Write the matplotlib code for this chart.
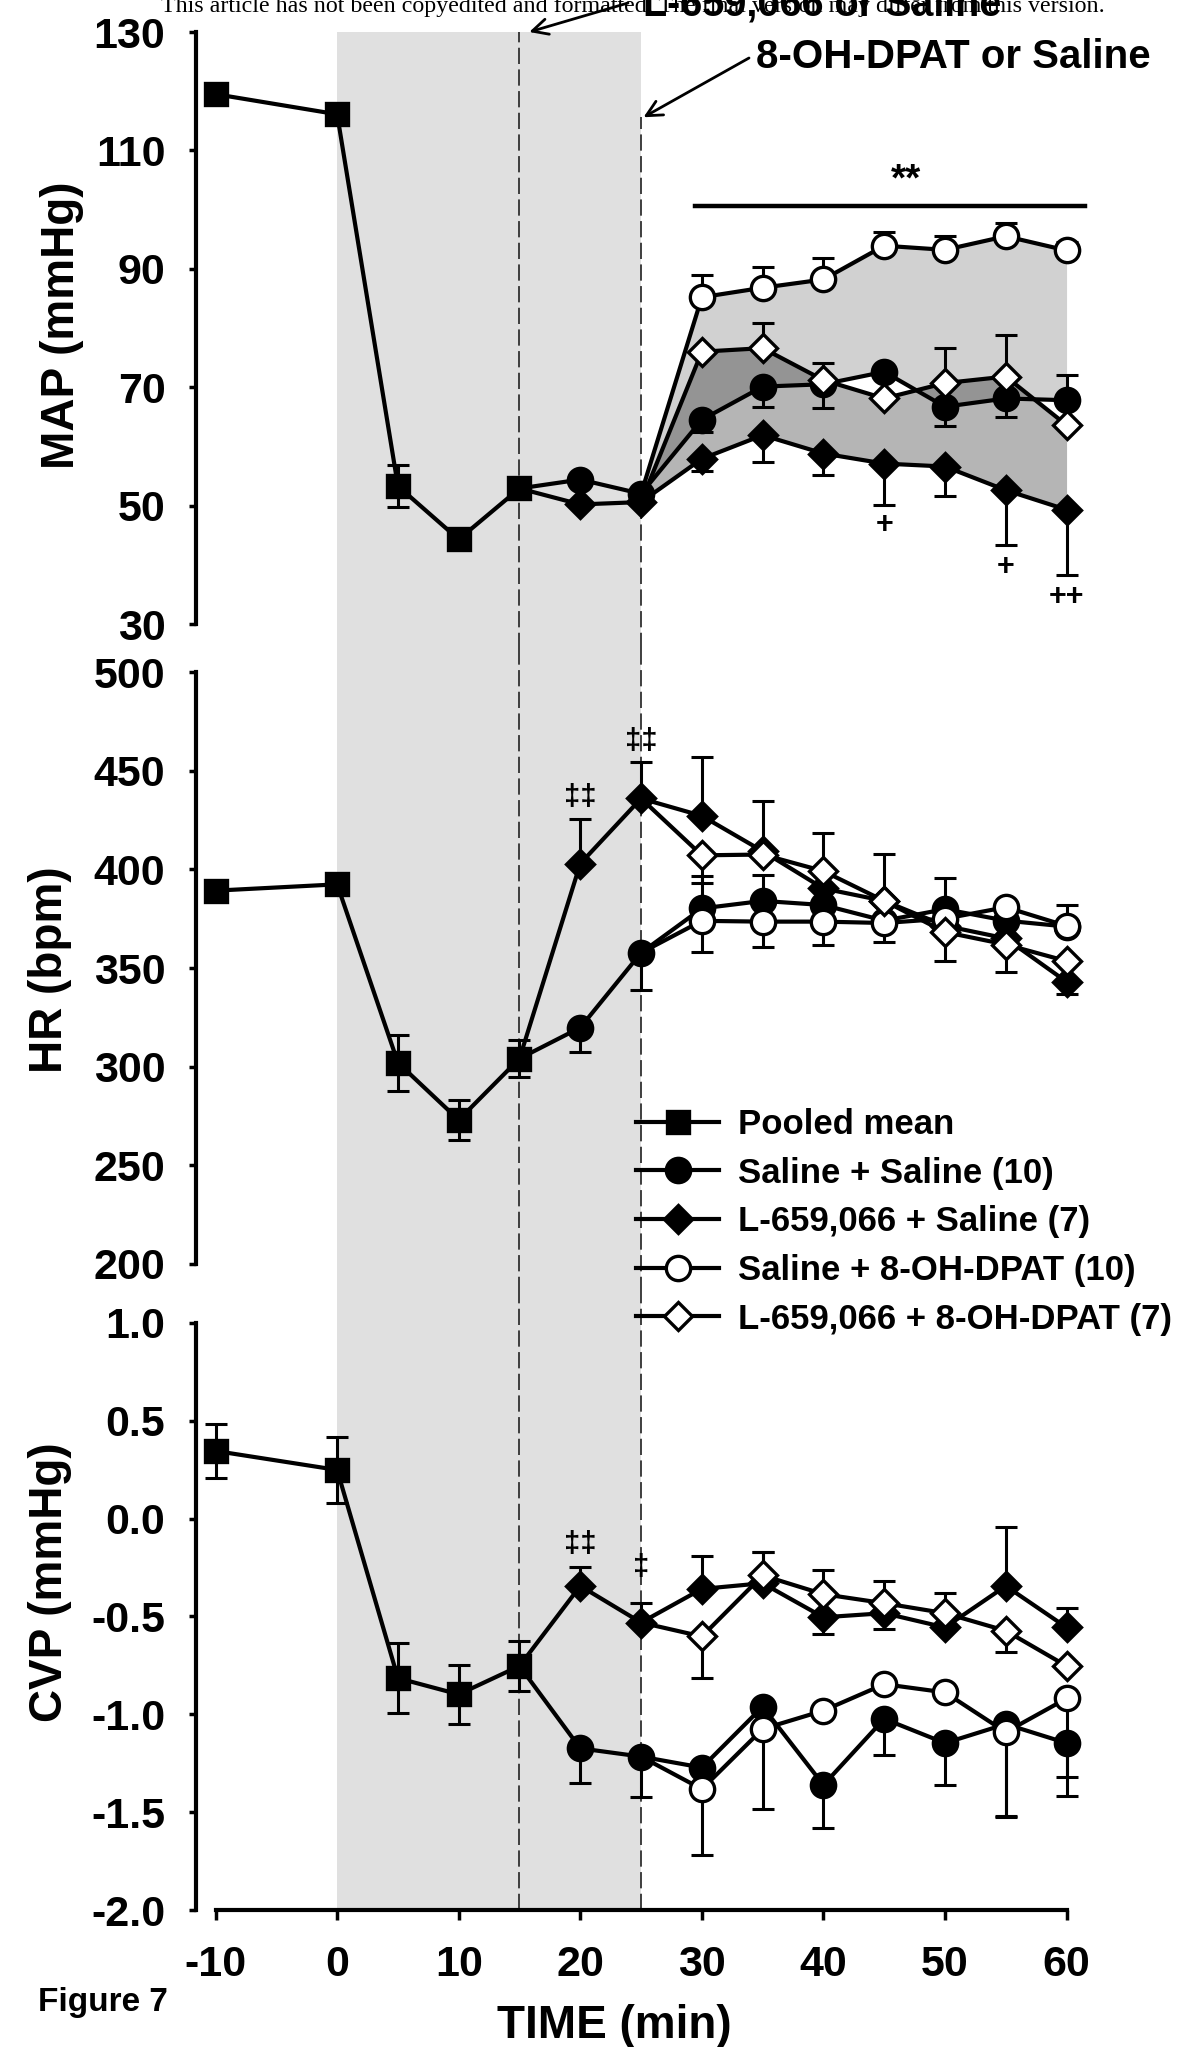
import numpy as np
import matplotlib
matplotlib.use("Agg")
import matplotlib.pyplot as plt
from matplotlib.lines import Line2D

plt.rcParams['font.family'] = ['Liberation Sans', 'DejaVu Sans']
plt.rcParams['font.weight'] = 'bold'
plt.rcParams['axes.unicode_minus'] = False

# ---------------- data ----------------
TIME_POOLED = [-10, 0, 5, 10, 15]
TIME_PRE = [20, 25, 30, 35, 40, 45, 50, 55, 60]     # pretreatment groups (continue from pooled at 15)
TIME_POST = [30, 35, 40, 45, 50, 55, 60]            # 8-OH-DPAT groups (continue from their saline point at 25)

LABELS = ["Pooled mean", "Saline + Saline (10)", "L-659,066 + Saline (7)",
          "Saline + 8-OH-DPAT (10)", "L-659,066 + 8-OH-DPAT (7)"]

# MAP (mmHg)
map_pooled = [119.5, 116.1, 53.3, 44.3, 52.9]
map_pooled_err = [0, 0, 3.5, 0, 0]
map_ss = [54.4, 52.0, 64.5, 70.1, 70.5, 72.6, 66.7, 68.1, 67.8]
map_ss_lo = [0, 0, 2.1, 3.4, 4.0, 0, 3.3, 3.1, 0]
map_ss_hi = [0, 0, 0, 0, 0, 0, 0, 0, 4.3]
map_ls = [50.2, 50.6, 57.9, 61.9, 58.8, 57.1, 56.6, 52.6, 49.3]
map_ls_lo = [0, 0, 2.1, 4.5, 3.6, 7.0, 5.0, 9.3, 11.0]
map_ls_hi = [0, 0, 0, 0, 0, 0, 0, 0, 0]
map_so = [85.2, 86.8, 88.2, 93.9, 93.2, 95.5, 93.1]
map_so_lo = [0, 0, 0, 0, 0, 0, 0]
map_so_hi = [3.8, 3.5, 3.7, 2.3, 2.4, 2.3, 1.4]
map_lo = [76.0, 76.6, 71.2, 68.1, 70.7, 71.8, 63.6]
map_lo_lo = [0, 0, 0, 0, 0, 0, 0]
map_lo_hi = [0, 4.2, 2.9, 0, 5.9, 7.0, 0]

# HR (bpm)
hr_pooled = [389.2, 392.4, 302.0, 273.0, 304.1]
hr_pooled_err = [0, 0, 14.3, 10.0, 9.5]
hr_ss = [319.8, 357.7, 380.2, 384.0, 381.9, 374.0, 379.8, 374.0, 371.0]
hr_ss_lo = [12.6, 18.9, 0, 0, 0, 0, 0, 0, 0]
hr_ss_hi = [0, 0, 16.4, 13.0, 10.0, 0, 15.7, 0, 11.0]
hr_ls = [402.9, 435.9, 427.1, 409.2, 390.3, 384.0, 371.4, 365.0, 343.0]
hr_ls_lo = [0, 0, 0, 0, 0, 0, 0, 0, 6.3]
hr_ls_hi = [22.5, 18.5, 29.8, 25.6, 0, 24.0, 0, 0, 0]
hr_so = [373.9, 373.5, 373.5, 372.8, 375.0, 380.8, 371.3]
hr_so_lo = [15.6, 12.7, 11.6, 9.4, 0, 0, 0]
hr_so_hi = [0, 0, 0, 0, 0, 0, 0]
hr_lo = [407.1, 407.5, 399.1, 384.0, 368.2, 361.9, 353.5]
hr_lo_lo = [14.0, 0, 0, 0, 14.7, 13.7, 0]
hr_lo_hi = [0, 0, 19.5, 0, 0, 0, 0]

# CVP (mmHg)
cvp_pooled = [0.346, 0.249, -0.815, -0.898, -0.753]
cvp_pooled_err = [0.14, 0.17, 0.18, 0.15, 0.13]
cvp_ss = [-1.174, -1.216, -1.272, -0.961, -1.361, -1.023, -1.147, -1.050, -1.147]
cvp_ss_lo = [0.175, 0.207, 0, 0, 0.222, 0.187, 0.214, 0.47, 0.27]
cvp_ss_hi = [0, 0, 0, 0, 0, 0, 0, 0, 0]
cvp_ls = [-0.344, -0.531, -0.359, -0.330, -0.504, -0.483, -0.556, -0.344, -0.556]
cvp_ls_lo = [0, 0, 0, 0, 0.083, 0.083, 0, 0, 0]
cvp_ls_hi = [0.099, 0.10, 0.17, 0.16, 0, 0, 0, 0.30, 0.10]
cvp_so = [-1.382, -1.075, -0.981, -0.846, -0.888, -1.091, -0.919]
cvp_so_lo = [0.336, 0.41, 0, 0, 0, 0.436, 0.40]
cvp_so_hi = [0, 0, 0, 0, 0, 0, 0]
cvp_lo = [-0.602, -0.290, -0.386, -0.432, -0.483, -0.573, -0.753]
cvp_lo_lo = [0.213, 0, 0, 0, 0, 0.108, 0]
cvp_lo_hi = [0, 0.122, 0.125, 0.115, 0.103, 0, 0]

# significance marks (x, y, text)
MAP_MARKS = [(46.8, 104.9, "**"), (45, 46.8, "+"), (55, 39.6, "+"), (60, 34.5, "++")]
MAP_SIG_BAR = ([29.4, 61.5], [100.6, 100.6])
HR_MARKS = [(20, 436.5, "\u2021\u2021"), (25, 464.9, "\u2021\u2021")]
CVP_MARKS = [(20, -0.131, "\u2021\u2021"), (25, -0.245, "\u2021")]

INFUSION_SPAN = (0, 25)
DASH_TIMES = (15, 25)

# ---------------- layout ----------------
W, H = 1186, 2047
fig = plt.figure(figsize=(W / 100, H / 100), dpi=100)
fig.patch.set_facecolor('white')
LEFT, RIGHT = 196, 1100


def px_axes(top, bottom):
    return [LEFT / W, 1 - bottom / H, (RIGHT - LEFT) / W, (bottom - top) / H]


ax_map = fig.add_axes(px_axes(32, 649))
ax_hr = fig.add_axes(px_axes(649, 1293))
ax_cvp = fig.add_axes(px_axes(1293, 1910))
axes = [ax_map, ax_hr, ax_cvp]

ax_map.set_ylim(25.78, 130)
ax_hr.set_ylim(185.3, 511.66)
ax_cvp.set_ylim(-2.0, 1.1533)
YB = [(30, 130), (200, 500), (-2.0, 1.0)]
YT = [np.arange(30, 131, 20), np.arange(200, 501, 50), np.arange(-2.0, 1.01, 0.5)]

LW = 3.0
MS = dict(pooled=('s', 16.5, 'black'), ss=('o', 17.5, 'black'), ls=('D', 14.5, 'black'),
          so=('o', 17.5, 'white'), lo=('D', 14.5, 'white'))

for ax, yb, yt in zip(axes, YB, YT):
    ax.set_facecolor('none')
    ax.set_xlim(-11.61, 62.75)
    for s in ('top', 'right'):
        ax.spines[s].set_visible(False)
    ax.spines['left'].set_bounds(*yb)
    ax.spines['left'].set_linewidth(3)
    ax.set_yticks(yt)
    ax.tick_params(axis='y', direction='out', length=5, width=2.5, labelsize=31, pad=17)
    ax.axvspan(*INFUSION_SPAN, color='#e0e0e0', zorder=0, lw=0)

for ax in (ax_map, ax_hr):
    ax.spines['bottom'].set_visible(False)
    ax.set_xticks([])

ax_cvp.spines['bottom'].set_bounds(-10, 60)
ax_cvp.spines['bottom'].set_linewidth(3)
ax_cvp.set_xticks(np.arange(-10, 61, 10))
ax_cvp.tick_params(axis='x', direction='out', length=7, width=2.5, labelsize=31, pad=18)
ax_cvp.set_yticklabels([f"{v:.1f}" for v in YT[2]])

# dashed lines
dash_kw = dict(color='#303030', lw=1.3, linestyle=(0, (9, 3)), zorder=1)
ax_map.axvline(DASH_TIMES[0], **dash_kw)
ax_map.plot([DASH_TIMES[1]] * 2, [25.78, 115.6], **dash_kw)
for ax in (ax_hr, ax_cvp):
    for t in DASH_TIMES:
        ax.axvline(t, **dash_kw)


def draw_series(ax, x, y, lo, hi, key, start=None, z=3):
    marker, ms, fc = MS[key]
    x = list(x)
    y = list(y)
    lo = np.asarray(lo, float)
    hi = np.asarray(hi, float)
    m = (lo > 0) | (hi > 0)
    xs = np.asarray(x)[m]
    ys = np.asarray(y)[m]
    if m.any():
        ax.errorbar(xs, ys, yerr=[lo[m], hi[m]], fmt='none', ecolor='black',
                    elinewidth=2.2, capsize=8, capthick=2.2, zorder=z)
    lx, ly = (([start[0]] + x, [start[1]] + y) if start is not None else (x, y))
    ax.plot(lx, ly, color='black', lw=LW, zorder=z + 0.1, solid_joinstyle='miter')
    ax.plot(x, y, linestyle='none', marker=marker, ms=ms, mfc=fc, mec='black',
            mew=2.4, zorder=z + 0.2)


panels = [
    (ax_map, map_pooled, map_pooled_err, (map_ss, map_ss_lo, map_ss_hi), (map_ls, map_ls_lo, map_ls_hi),
     (map_so, map_so_lo, map_so_hi), (map_lo, map_lo_lo, map_lo_hi)),
    (ax_hr, hr_pooled, hr_pooled_err, (hr_ss, hr_ss_lo, hr_ss_hi), (hr_ls, hr_ls_lo, hr_ls_hi),
     (hr_so, hr_so_lo, hr_so_hi), (hr_lo, hr_lo_lo, hr_lo_hi)),
    (ax_cvp, cvp_pooled, cvp_pooled_err, (cvp_ss, cvp_ss_lo, cvp_ss_hi), (cvp_ls, cvp_ls_lo, cvp_ls_hi),
     (cvp_so, cvp_so_lo, cvp_so_hi), (cvp_lo, cvp_lo_lo, cvp_lo_hi)),
]

for ax, pooled, perr, ss, ls, so, lo in panels:
    draw_series(ax, TIME_POOLED, pooled, perr, perr, 'pooled', z=3)
    p_end = (TIME_POOLED[-1], pooled[-1])
    draw_series(ax, TIME_PRE, ss[0], ss[1], ss[2], 'ss', start=p_end, z=4)
    draw_series(ax, TIME_PRE, ls[0], ls[1], ls[2], 'ls', start=p_end, z=5)
    i25 = TIME_PRE.index(25)
    draw_series(ax, TIME_POST, so[0], so[1], so[2], 'so', start=(25, ss[0][i25]), z=6)
    draw_series(ax, TIME_POST, lo[0], lo[1], lo[2], 'lo', start=(25, ls[0][i25]), z=7)

# MAP fills between group pairs
i25 = TIME_PRE.index(25)
fx = [25] + TIME_POST
ax_map.fill_between(fx, map_ss[i25:], [map_ss[i25]] + map_so, color='black', alpha=0.18, lw=0, zorder=1.5)
ax_map.fill_between(fx, map_ls[i25:], [map_ls[i25]] + map_lo, color='black', alpha=0.29, lw=0, zorder=1.6)

# significance marks
ax_map.plot(*MAP_SIG_BAR, color='black', lw=3.2, zorder=8)
for x, y, s in MAP_MARKS:
    ax_map.text(x, y, s, ha='center', va='center', fontsize=28 if s == "**" else 22, zorder=9)
for x, y, s in HR_MARKS:
    ax_hr.text(x, y, s, ha='center', va='center', fontsize=21, zorder=9)
for x, y, s in CVP_MARKS:
    ax_cvp.text(x, y, s, ha='center', va='center', fontsize=21, zorder=9)

# axis labels
for ax, lab, cx, cy in ((ax_map, "MAP (mmHg)", 62, 325), (ax_hr, "HR (bpm)", 50, 970),
                        (ax_cvp, "CVP (mmHg)", 50, 1582)):
    fig.text(cx / W, 1 - cy / H, lab, rotation=90, ha='center', va='center', fontsize=33)
fig.text(614 / W, 1 - 2038 / H, "TIME (min)", ha='center', va='baseline', fontsize=33)
fig.text(38 / W, 1 - 2011 / H, "Figure 7", ha='left', va='baseline', fontsize=24)

# header text and arrows
fig.text(643 / W, 1 - 15 / H, "L-659,066 or Saline", ha='left', va='baseline', fontsize=28.5)
fig.text(756 / W, 1 - 68 / H, "8-OH-DPAT or Saline", ha='left', va='baseline', fontsize=29)
fig.text(633 / W, 1 - 12 / H,
         "This article has not been copyedited and formatted. The final version may differ from this version.",
         ha='center', va='baseline', fontsize=17.3, family='Liberation Serif', weight='normal')
arrow_kw = dict(arrowstyle='->', lw=2.0, color='black', mutation_scale=28, shrinkA=0, shrinkB=0)
ax_map.annotate("", xy=(15.8, 130.0), xycoords='data',
                xytext=(628 / W, 1 - 3 / H), textcoords='figure fraction',
                arrowprops=arrow_kw, annotation_clip=False)
ax_map.annotate("", xy=(25.2, 115.6), xycoords='data',
                xytext=(749 / W, 1 - 58 / H), textcoords='figure fraction',
                arrowprops=arrow_kw, annotation_clip=False)

# legend
handles = []
for key in ('pooled', 'ss', 'ls', 'so', 'lo'):
    marker, ms, fc = MS[key]
    handles.append(Line2D([], [], color='black', lw=LW, marker=marker, ms=ms, mfc=fc,
                          mec='black', mew=2.4))
fig.legend(handles, LABELS, loc='upper left', bbox_to_anchor=(636 / W, 1 - 1108 / H),
           frameon=False, fontsize=25, handlelength=2.4, handletextpad=0.55,
           labelspacing=0.45, borderpad=0, borderaxespad=0, numpoints=1)

fig.savefig("out.png", dpi=100)
